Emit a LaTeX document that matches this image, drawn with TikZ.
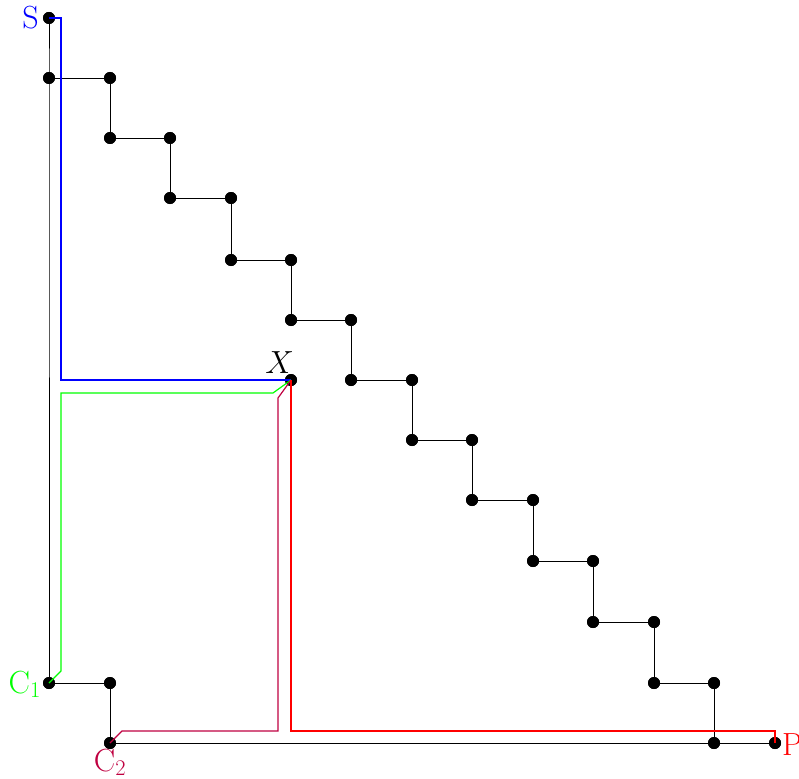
\RequirePackage{fix-cm}
\documentclass[tikz,border=0pt]{standalone}
\usetikzlibrary{calc}
\begin{document}
\begin{tikzpicture}[x=1pt,y=-1pt,
  dot/.style={circle,fill=black,inner sep=0pt,minimum size=12pt},
  blackline/.style={line width=0.9pt,black},
  route/.style={line width=1.2pt},
  lab/.style={font=\fontsize{32}{38}\selectfont,inner sep=0pt}]
\useasboundingbox (0,0) rectangle (799,778);
% nodes
\node[dot] (S) at (49,18) {};
\node[dot] (a0) at (49,78) {};
\node[dot] (s1) at (110,78) {};
\node[dot] (s2) at (110,138) {};
\node[dot] (s3) at (170,138) {};
\node[dot] (s4) at (170,198) {};
\node[dot] (s5) at (231,198) {};
\node[dot] (s6) at (231,260) {};
\node[dot] (s7) at (291,260) {};
\node[dot] (s8) at (291,320) {};
\node[dot] (s9) at (351,320) {};
\node[dot] (s10) at (351,380) {};
\node[dot] (s11) at (412,380) {};
\node[dot] (s12) at (412,440) {};
\node[dot] (s13) at (472,440) {};
\node[dot] (s14) at (472,500) {};
\node[dot] (s15) at (533,500) {};
\node[dot] (s16) at (533,561) {};
\node[dot] (s17) at (593,561) {};
\node[dot] (s18) at (593,622) {};
\node[dot] (s19) at (654,622) {};
\node[dot] (s20) at (654,683) {};
\node[dot] (s21) at (714,683) {};
\node[dot] (s22) at (714,743) {};
\node[dot] (P) at (775,743) {};
\node[dot] (X) at (291,380) {};
\node[dot] (C1) at (49,683) {};
\node[dot] (c1r) at (110,683) {};
\node[dot] (C2) at (110,743) {};
% black edges
\draw[blackline] (S.center) -- (a0.center) -- (C1.center) -- (c1r.center) -- (C2.center) -- (s22.center) -- (P.center);
\draw[blackline] (a0.center) -- (s1.center) -- (s2.center) -- (s3.center) -- (s4.center) -- (s5.center) -- (s6.center) -- (s7.center) -- (s8.center) -- (s9.center) -- (s10.center) -- (s11.center) -- (s12.center) -- (s13.center) -- (s14.center) -- (s15.center) -- (s16.center) -- (s17.center) -- (s18.center) -- (s19.center) -- (s20.center) -- (s21.center) -- (s22.center);
% dots on top of black edges
\foreach \n in {S,a0,s1,s2,s3,s4,s5,s6,s7,s8,s9,s10,s11,s12,s13,s14,s15,s16,s17,s18,s19,s20,s21,s22,P,X,C1,c1r,C2}
  \fill[black] (\n.center) circle (6pt);
% coloured routes
\draw[route,blue] (S.center) -- ++(12,0) |- (X.center);
\draw[route,green] (C1.center) -- ++(12,-12) |- ($(X.center)+(-18,13)$) -- (X.center);
\draw[route,purple] (C2.center) -- ++(12,-12) -| ($(X.center)+(-13,18)$) -- (X.center);
\draw[route,red] (X.center) |- ($(P.center)+(0,-12)$) -- (P.center);
% labels
\node[lab,blue,anchor=base east] (Slab) at (39,29) {S};
\node[lab,black,anchor=base east] (Xlab) at (294,373) {$X$};
\node[lab,green,anchor=base east] (C1lab) at (41,693) {C$_1$};
\node[lab,purple,anchor=base] (C2lab) at (110,771) {C$_2$};
\node[lab,red,anchor=base west] (Plab) at (782,755) {P};
\end{tikzpicture}
\end{document}
